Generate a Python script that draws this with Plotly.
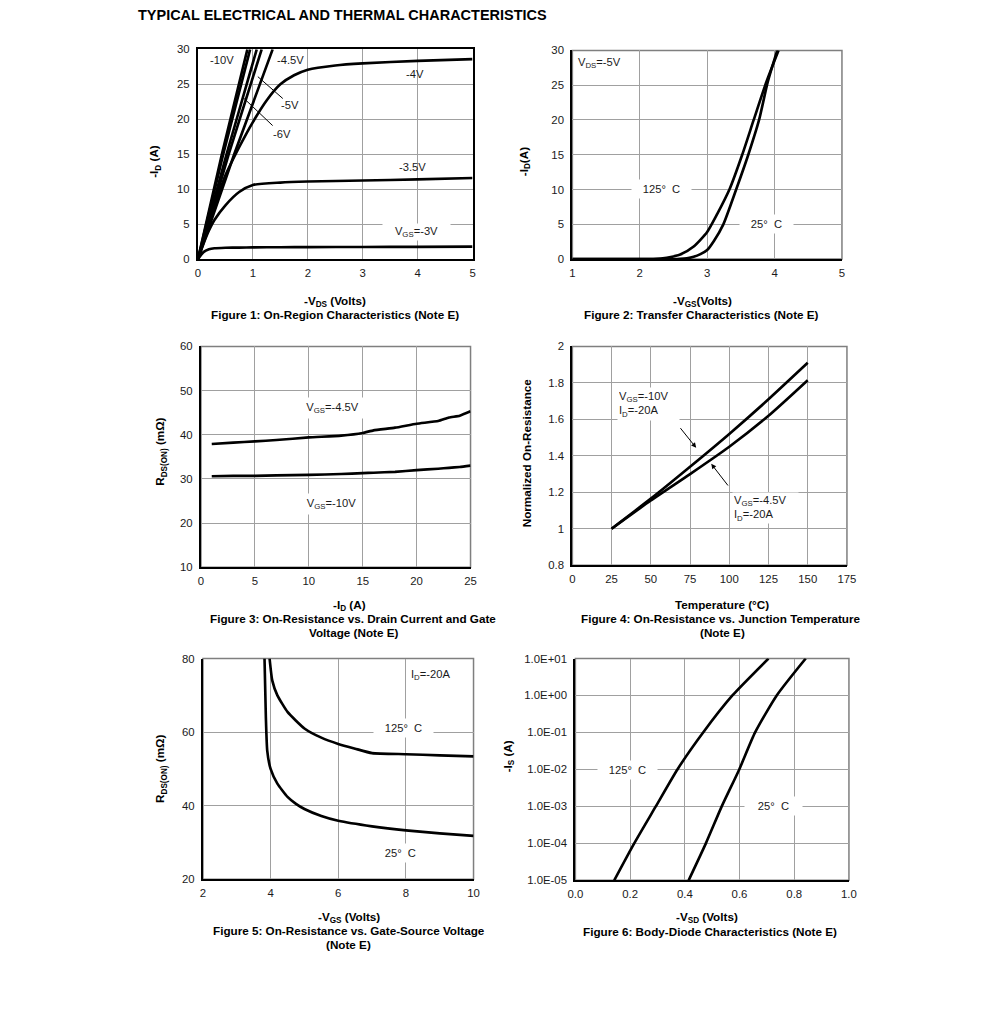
import plotly.graph_objects as go

# Figure canvas (page body keeps its 8px margin -> page is 991x1016)
W, H = 975, 1000
# measured mapping from page pixels to the final picture: out = s * (page + 8)
S_X = 991 / 1007
S_Y = 1016 / 1032
FS = 1 / S_X  # size compensation
FONT = "Liberation Sans, Arial, sans-serif"

# ---------------- Figure 1 data: On-region characteristics ----------------
vds_sat = [0, 0.1, 0.2, 0.3, 0.5, 0.75, 1.0, 1.5, 2.0, 3.0, 4.0, 5.0]
id_vgs_3 = [0, 1.0, 1.4, 1.55, 1.62, 1.65, 1.68, 1.7, 1.72, 1.74, 1.76, 1.78]
id_vgs_35 = [0, 2.2, 4.1, 5.6, 7.7, 9.6, 10.6, 10.95, 11.1, 11.25, 11.4, 11.6]
vds_4 = [0, 0.25, 0.5, 0.75, 1.0, 1.25, 1.5, 1.75, 2.0, 2.5, 3.0, 4.0, 5.0]
id_vgs_4 = [0, 6.3, 12.0, 16.0, 19.6, 22.7, 25.0, 26.3, 27.1, 27.7, 28.0, 28.35, 28.6]
vds_45 = [0, 0.66, 1.36]
vds_5 = [0, 0.56, 1.16]
vds_6 = [0, 0.52, 1.07]
vds_8 = [0, 0.46, 0.95]
vds_10 = [0, 0.435, 0.90]
id_lin = [0, 15, 30]

# ---------------- Figure 2 data: Transfer characteristics ----------------
vgs_125 = [1.0, 2.0, 2.2, 2.4, 2.6, 2.8, 3.0, 3.15, 3.33, 3.52, 3.69, 3.88, 4.06]
id_125 = [0, 0, 0.02, 0.2, 0.65, 1.8, 3.9, 6.5, 10, 15, 20, 25.5, 30]
vgs_25 = [1.0, 2.5, 2.6, 2.7, 2.8, 2.9, 3.0, 3.1, 3.24, 3.43, 3.61, 3.77, 3.9, 4.04]
id_25 = [0, 0, 0.03, 0.12, 0.33, 0.72, 1.3, 2.6, 5, 10, 15, 20, 25.5, 30]

# ---------------- Figure 3 data: Rds(on) vs Id ----------------
id3 = [1, 3, 5, 7, 10, 13, 15, 16, 18, 20, 22, 23, 24, 25]
r_45 = [37.9, 38.2, 38.5, 38.8, 39.4, 39.8, 40.4, 41.0, 41.6, 42.5, 43.1, 43.9, 44.3, 45.3]
r_10 = [30.6, 30.7, 30.7, 30.8, 30.9, 31.1, 31.3, 31.4, 31.6, 32.0, 32.3, 32.5, 32.7, 33.0]

# ---------------- Figure 4 data: Normalized Rds(on) vs temperature ----------------
temp = [25, 50, 75, 100, 125, 150]
n_10 = [1.0, 1.165, 1.34, 1.52, 1.71, 1.91]
n_45 = [1.0, 1.155, 1.30, 1.45, 1.62, 1.815]

# ---------------- Figure 5 data: Rds(on) vs Vgs ----------------
vgs5_25 = [3.82, 3.86, 3.9, 4.0, 4.2, 4.5, 4.75, 5.0, 5.5, 6.0, 7.0, 8.0, 9.0, 10.0]
r5_25 = [80, 64, 55, 50, 46, 42.4, 40.5, 39.1, 37.2, 35.9, 34.4, 33.3, 32.5, 31.8]
vgs5_125 = [3.97, 4.05, 4.2, 4.5, 5.0, 5.5, 6.0, 6.5, 7.0, 8.0, 9.0, 10.0]
r5_125 = [80, 74, 70, 65.5, 61, 58.5, 56.8, 55.5, 54.3, 54.0, 53.7, 53.4]

# ---------------- Figure 6 data: Body diode ----------------
vsd_125 = [0.142, 0.215, 0.294, 0.373, 0.467, 0.574, 0.706]
vsd_25 = [0.414, 0.477, 0.535, 0.599, 0.657, 0.736, 0.842]
is_vals = [1e-5, 1e-4, 1e-3, 1e-2, 1e-1, 1, 10]
log_ticks = [1e-5, 1e-4, 1e-3, 1e-2, 1e-1, 1, 10]
log_labels = ["1.0E-05", "1.0E-04", "1.0E-03", "1.0E-02", "1.0E-01", "1.0E+00", "1.0E+01"]

# ---------------- layout geometry (target picture pixels) ----------------
panels = {
    1: dict(x=(198, 473), y=(51, 260)),
    2: dict(x=(573, 843), y=(52, 260)),
    3: dict(x=(201, 471), y=(347, 567)),
    4: dict(x=(573, 848), y=(347, 565)),
    5: dict(x=(203, 474), y=(658, 878)),
    6: dict(x=(576, 850), y=(658, 879)),
}


def px(x):
    return (x / S_X - 16) / W


def py(y):
    return 1 - (y / S_Y - 16) / H


def fs(v):
    return round(v * FS, 2)


fig = go.Figure()
LW = fs(2.6)


def add_line(n, x, y, smooth=0.6):
    fig.add_trace(go.Scatter(
        x=x, y=y, mode="lines",
        line=dict(color="black", width=LW, shape="spline", smoothing=smooth),
        xaxis="x" if n == 1 else f"x{n}", yaxis="y" if n == 1 else f"y{n}",
        showlegend=False, hoverinfo="skip"))


# Figure 1
add_line(1, vds_sat, id_vgs_3)
add_line(1, vds_sat, id_vgs_35)
add_line(1, vds_4, id_vgs_4)
for v in (vds_45, vds_5, vds_6, vds_8, vds_10):
    add_line(1, v, id_lin)
# Figure 2
add_line(2, vgs_125, id_125)
add_line(2, vgs_25, id_25)
# Figure 3
add_line(3, id3, r_45, 0.4)
add_line(3, id3, r_10, 0.4)
# Figure 4
add_line(4, temp, n_10)
add_line(4, temp, n_45)
# Figure 5
add_line(5, vgs5_25, r5_25, 0.5)
add_line(5, vgs5_125, r5_125, 0.5)
# Figure 6
add_line(6, vsd_125, is_vals)
add_line(6, vsd_25, is_vals)

axis_ranges = {
    1: dict(x=dict(range=[0, 5], dtick=1), y=dict(range=[0, 30], dtick=5)),
    2: dict(x=dict(range=[1, 5], dtick=1), y=dict(range=[0, 30], dtick=5)),
    3: dict(x=dict(range=[0, 25], dtick=5), y=dict(range=[10, 60], dtick=10)),
    4: dict(x=dict(range=[0, 175], dtick=25), y=dict(range=[0.8, 2], dtick=0.2)),
    5: dict(x=dict(range=[2, 10], dtick=2), y=dict(range=[20, 80], dtick=20)),
    6: dict(x=dict(range=[0, 1], dtick=0.2, tickformat=".1f"),
            y=dict(type="log", range=[-5, 1], tickmode="array",
                   tickvals=log_ticks, ticktext=log_labels)),
}

GRID = "#a0a0a0"
tickfont = dict(family=FONT, size=fs(11.2), color="#1a1a1a")
shapes = []
for n, g in panels.items():
    sx = "" if n == 1 else str(n)
    xa = dict(domain=[px(g["x"][0]), px(g["x"][1])], anchor=f"y{sx}",
              showgrid=True, gridcolor=GRID, gridwidth=1.3, zeroline=False,
              showline=True, linecolor="black", linewidth=2.2, mirror=(n == 1),
              ticks="", tickfont=tickfont, ticklabelstandoff=2, fixedrange=True)
    ya = dict(domain=[py(g["y"][1]), py(g["y"][0])], anchor=f"x{sx}",
              showgrid=True, gridcolor=GRID, gridwidth=1.3, zeroline=False,
              showline=True, linecolor="black", linewidth=2.2, mirror=(n == 1),
              ticks="", tickfont=tickfont, ticklabelstandoff=4, fixedrange=True)
    xa.update(axis_ranges[n]["x"])
    ya.update(axis_ranges[n]["y"])
    fig.update_layout(**{f"xaxis{sx}": xa, f"yaxis{sx}": ya})
    if n != 1:
        shapes.append(dict(type="rect", xref=f"x{sx} domain", yref=f"y{sx} domain",
                           x0=0, x1=1, y0=0, y1=1, line=dict(color="#7f7f7f", width=1.5),
                           layer="below"))

# pointer lines for Figure 1
shapes.append(dict(type="line", xref="x", yref="y", x0=1.545, y0=22.97, x1=1.09, y1=26.1,
                   line=dict(color="black", width=1)))
shapes.append(dict(type="line", xref="x", yref="y", x0=1.36, y0=19.1, x1=0.836, y1=23.0,
                   line=dict(color="black", width=1)))

ann = []
lf = dict(family=FONT, size=fs(11), color="#1a1a1a")
bf = dict(family=FONT, size=fs(11.5), color="black")


def txt(x, y, text, font=lf, **kw):
    d = dict(x=px(x), y=py(y), xref="paper", yref="paper", text=text, showarrow=False,
             font=font, xanchor="center", yanchor="middle")
    for k in ("width", "height"):
        if k in kw:
            kw[k] = fs(kw[k])
    d.update(kw)
    ann.append(d)


# Page title
txt(136, 17, "<b>TYPICAL ELECTRICAL AND THERMAL CHARACTERISTICS</b>",
    font=dict(family=FONT, size=fs(14.25), color="black"), xanchor="left")

# Figure 1 labels
txt(222, 62, "-10V")
txt(291, 62, "-4.5V")
txt(415, 76, "-4V")
txt(290, 106, "-5V")
txt(282, 135, "-6V")
txt(413, 168, "-3.5V")
txt(417, 233, "V<sub>GS</sub>=-3V", bgcolor="white", width=64, height=14, align="center")
# Figure 2 labels
txt(600, 65, "V<sub>DS</sub>=-5V")
txt(662, 190, "125°  C", bgcolor="white", width=56, height=16)
txt(767, 225, "25°  C", bgcolor="white", width=50, height=16)
# Figure 3 labels
txt(333, 408, "V<sub>GS</sub>=-4.5V", bgcolor="white", width=60, height=18)
txt(332, 504, "V<sub>GS</sub>=-10V", bgcolor="white", width=56, height=18)
# Figure 4 labels
txt(649, 404, "V<sub>GS</sub>=-10V<br>I<sub>D</sub>=-20A", bgcolor="white", align="left",
    width=58, height=30)
txt(766, 508, "V<sub>GS</sub>=-4.5V<br>I<sub>D</sub>=-20A", bgcolor="white", align="left",
    width=62, height=28)
ann.append(dict(x=78.9, y=1.444, ax=68.1, ay=1.56, xref="x4", yref="y4", axref="x4", ayref="y4",
                showarrow=True, arrowhead=2, arrowsize=1, arrowwidth=1, arrowcolor="black", text=""))
ann.append(dict(x=88.5, y=1.356, ax=99.9, ay=1.229, xref="x4", yref="y4", axref="x4", ayref="y4",
                showarrow=True, arrowhead=2, arrowsize=1, arrowwidth=1, arrowcolor="black", text=""))
# Figure 5 labels
txt(431, 674, "I<sub>D</sub>=-20A")
txt(404, 727, "125°  C", bgcolor="white", width=56, height=16)
txt(401, 852, "25°  C", bgcolor="white", width=42, height=16)
# Figure 6 labels
txt(628, 769, "125°  C", bgcolor="white", width=56, height=16)
txt(774, 805, "25°  C", bgcolor="white", width=54, height=16)

# Axis titles and captions
txt(335, 302, "<b>-V<sub>DS</sub> (Volts)</b>", font=bf)
txt(335, 315, "<b>Figure 1: On-Region Characteristics (Note E)</b>", font=bf)
txt(703, 302, "<b>-V<sub>GS</sub>(Volts)</b>", font=bf)
txt(702, 315, "<b>Figure 2: Transfer Characteristics (Note E)</b>", font=bf)
txt(350, 605, "<b>-I<sub>D</sub> (A)</b>", font=bf)
txt(353, 618, "<b>Figure 3: On-Resistance vs. Drain Current and Gate</b>", font=bf)
txt(354, 632, "<b>Voltage (Note E)</b>", font=bf)
txt(723, 604, "<b>Temperature (°C)</b>", font=bf)
txt(722, 618, "<b>Figure 4: On-Resistance vs. Junction Temperature</b>", font=bf)
txt(723, 632, "<b>(Note E)</b>", font=bf)
txt(349, 916, "<b>-V<sub>GS</sub> (Volts)</b>", font=bf)
txt(349, 929, "<b>Figure 5: On-Resistance vs. Gate-Source Voltage</b>", font=bf)
txt(349, 943, "<b>(Note E)</b>", font=bf)
txt(708, 916, "<b>-V<sub>SD</sub> (Volts)</b>", font=bf)
txt(711, 930, "<b>Figure 6: Body-Diode Characteristics (Note E)</b>", font=bf)

# Y axis titles
txt(155, 163, "<b>-I<sub>D</sub> (A)</b>", font=bf, textangle=-90)
txt(525, 163, "<b>-I<sub>D</sub>(A)</b>", font=bf, textangle=-90)
txt(161, 452, "<b>R<sub>DS(ON)</sub> (mΩ)</b>", font=bf, textangle=-90)
txt(527, 453, "<b>Normalized On-Resistance</b>", font=bf, textangle=-90)
txt(161, 768, "<b>R<sub>DS(ON)</sub> (mΩ)</b>", font=bf, textangle=-90)
txt(509, 755, "<b>-I<sub>S</sub> (A)</b>", font=bf, textangle=-90)

fig.update_layout(
    width=W, height=H, margin=dict(l=0, r=0, t=0, b=0),
    paper_bgcolor="white", plot_bgcolor="white",
    showlegend=False, shapes=shapes, annotations=ann,
    font=dict(family=FONT, size=11, color="#1a1a1a"),
)

fig.write_html("out.html", config={"displayModeBar": False})
